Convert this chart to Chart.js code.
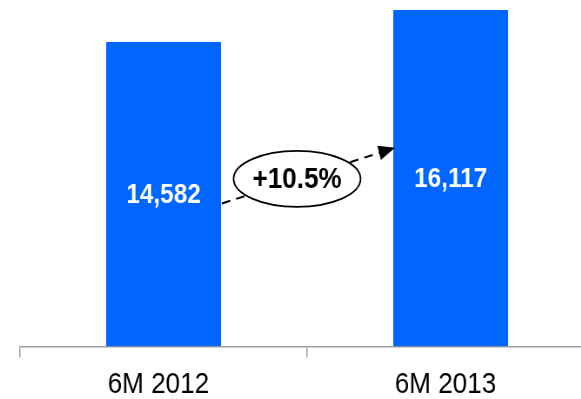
<!DOCTYPE html>
<html>
<head>
<meta charset="utf-8">
<script src="https://cdn.jsdelivr.net/npm/chart.js@4/dist/chart.umd.min.js"></script>
<style>
  html, body { margin: 0; padding: 0; background: #fff; overflow: hidden; }
  /* labels are set in a condensed Arial look, so the whole canvas is squeezed sideways */
  #wrap { width: 690px; height: 399px; transform: scaleX(0.87); transform-origin: 0 0; }
</style>
</head>
<body>
<div id="wrap"><canvas id="chart"></canvas></div>
<script>
const categories = ['6M 2012', '6M 2013'];
const values = [14582, 16117];

const fmt = v => v.toLocaleString('en-US');
const growth = (values[1] / values[0] - 1) * 100;
const growthText = '+' + growth.toFixed(1) + '%';

// white figures in the middle of each bar
const barLabels = {
    id: 'barLabels',
    afterDatasetsDraw(chart) {
        const ctx = chart.ctx;
        const meta = chart.getDatasetMeta(0);
        ctx.save();
        ctx.fillStyle = '#fff';
        ctx.font = 'bold 28px "Liberation Sans", Arial, sans-serif';
        ctx.textAlign = 'center';
        ctx.textBaseline = 'middle';
        meta.data.forEach((bar, i) => {
            ctx.fillText(fmt(values[i]), bar.x, (bar.y + bar.base) / 2 + 1);
        });
        ctx.restore();
    }
};

// dashed arrow between the bars with the growth bubble on top
const growthArrow = {
    id: 'growthArrow',
    afterDatasetsDraw(chart) {
        const ctx = chart.ctx;
        const x = chart.scales.x, y = chart.scales.y;
        const bars = chart.getDatasetMeta(0).data;
        const x0 = bars[0].x + bars[0].width / 2 + 1;
        const y0 = y.getPixelForValue(6850);
        const x1 = bars[1].x - bars[1].width / 2 + 2;
        const y1 = y.getPixelForValue(9520);

        ctx.save();
        const ang = Math.atan2(y1 - y0, x1 - x0);
        const headLen = 19, headW = 7.5;
        const bx = x1 - headLen * Math.cos(ang), by = y1 - headLen * Math.sin(ang);

        ctx.strokeStyle = '#000';
        ctx.lineWidth = 2;
        ctx.setLineDash([10, 7]);
        ctx.beginPath();
        ctx.moveTo(x0, y0);
        ctx.lineTo(bx, by);
        ctx.stroke();
        ctx.setLineDash([]);

        ctx.fillStyle = '#000';
        ctx.beginPath();
        ctx.moveTo(x1, y1);
        ctx.lineTo(bx + headW * Math.sin(ang), by - headW * Math.cos(ang));
        ctx.lineTo(bx - headW * Math.sin(ang), by + headW * Math.cos(ang));
        ctx.closePath();
        ctx.fill();

        const cx = x.getPixelForValue(0.465);
        const cy = y.getPixelForValue(8030);
        ctx.beginPath();
        ctx.ellipse(cx, cy, 73, 28, 0, 0, Math.PI * 2);
        ctx.fillStyle = '#fff';
        ctx.fill();
        ctx.lineWidth = 1.8;
        ctx.stroke();

        ctx.fillStyle = '#000';
        ctx.font = 'bold 30px "Liberation Sans", Arial, sans-serif';
        ctx.textAlign = 'center';
        ctx.textBaseline = 'middle';
        ctx.fillText(growthText, cx, cy + 1);
        ctx.restore();
    }
};

new Chart(document.getElementById('chart'), {
    type: 'bar',
    data: {
        labels: categories,
        datasets: [{
            data: values,
            backgroundColor: '#0066ff',
            borderWidth: 0,
            barPercentage: 0.4,
            categoryPercentage: 1
        }]
    },
    options: {
        responsive: true,
        maintainAspectRatio: false,
        animation: false,
        layout: { padding: { top: 10, left: 23, right: 7, bottom: 0 } },
        plugins: {
            legend: { display: false },
            tooltip: { enabled: false }
        },
        scales: {
            x: {
                offset: true,
                grid: {
                    offset: true,
                    drawOnChartArea: false,
                    tickLength: 11,
                    color: '#a0a0a0',
                    lineWidth: 1.5
                },
                border: { color: '#a0a0a0', width: 1.5 },
                ticks: {
                    color: '#000',
                    padding: 9,
                    labelOffset: -6,
                    font: { family: '"Liberation Sans", Arial, sans-serif', size: 30 }
                },
                afterFit(scale) { scale.height = 52.5; }
            },
            y: {
                display: false,
                min: 0,
                max: Math.max(...values)
            }
        }
    },
    plugins: [barLabels, growthArrow]
});
</script>
</body>
</html>
